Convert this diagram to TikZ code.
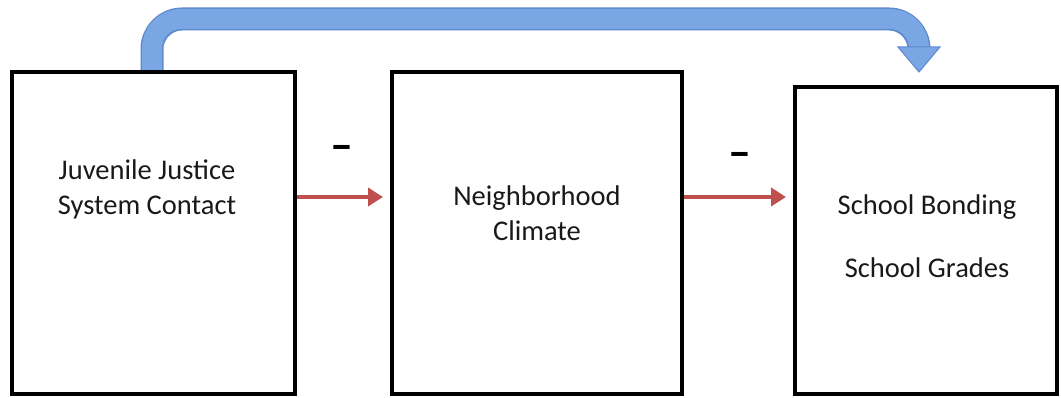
\documentclass[tikz,border=0pt]{standalone}
\usepackage{fontspec}
\setmainfont{Carlito}
\usetikzlibrary{arrows.meta}
\definecolor{flowblue}{RGB}{122,166,228}
\definecolor{flowblueedge}{RGB}{92,136,205}
\definecolor{linkred}{RGB}{192,80,77}
\begin{document}
\begin{tikzpicture}[x=1pt,y=-1pt,
  stage/.style={draw=black,line width=4pt,minimum width=#1,inner sep=0pt},
  label/.style={font=\fontsize{28.5}{35}\selectfont,align=center,text=black!90},
  sign/.style={font=\fontsize{46}{46}\selectfont\bfseries,text=black},
  link/.style={draw=linkred,line width=4.5pt,-{Triangle[length=15pt,width=18pt]},shorten >=7pt},
]
\useasboundingbox (0,0) rectangle (1061,398);
% the three stages
\node[stage=283pt,minimum height=322pt] (jjs) at (153.5,233) {};
\node[stage=290pt,minimum height=322pt] (nc) at (537,233) {};
\node[stage=262pt,minimum height=307pt] (sb) at (926,240.5) {};
% stage labels
\node[label] (tjjs) at (147,189) {Juvenile Justice\\System Contact};
\node[label] (tnc) at (537,213) {Neighborhood\\Climate};
\node[label] (tsb) at (927,236) {School Bonding\\[28pt]School Grades};
% negative links between neighbouring stages
\coordinate (a1) at ([yshift=36pt]jjs.east);
\coordinate (a2) at ([yshift=36pt]nc.east);
\draw[link] (a1) -- (a1 -| nc.west);
\draw[link] (a2) -- (a2 -| sb.west);
\node[sign] (m1) at (342,153) {–};
\node[sign] (m2) at (740,160) {–};
% direct path from the first to the last stage
\coordinate (up) at (152,19);
\coordinate (over) at (919,19);
\coordinate (tip) at (919,72);
\coordinate (src) at (jjs.north -| up);
\coordinate (neck) at (919,47);
\draw[flowblueedge,line width=23pt,rounded corners=30pt] (src) -- (up) -- (over) -- (neck);
\draw[flowblue,line width=20pt,rounded corners=29pt] (src) -- (up) -- (over) -- (neck);
\fill[flowblue,draw=flowblueedge,line width=1pt] (898,47) -- (940,47) -- (tip) -- cycle;
\end{tikzpicture}
\end{document}
